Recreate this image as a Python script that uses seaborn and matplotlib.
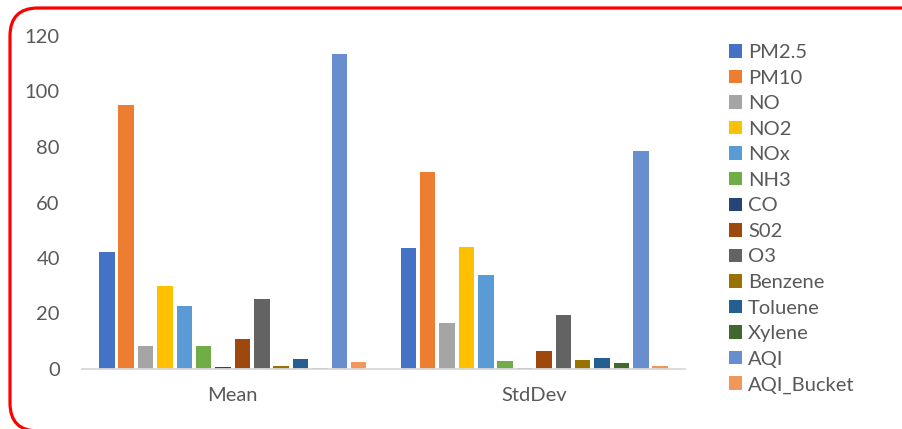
import matplotlib
matplotlib.use("Agg")
import matplotlib.pyplot as plt
from matplotlib.patches import FancyBboxPatch
from matplotlib.transforms import IdentityTransform
import seaborn as sns
import pandas as pd

stats = ["Mean", "StdDev"]
pollutants = ["PM2.5", "PM10", "NO", "NO2", "NOx", "NH3", "CO", "S02", "O3",
              "Benzene", "Toluene", "Xylene", "AQI", "AQI_Bucket"]
mean_vals = [42.2, 95.0, 8.3, 29.9, 22.7, 8.4, 0.8, 10.9, 25.2, 1.0, 3.6, 0.5, 113.4, 2.6]
std_vals = [43.7, 71.0, 16.4, 44.0, 34.0, 2.9, 0.5, 6.6, 19.5, 3.2, 4.0, 2.0, 78.6, 1.2]
colors = ["#4472C4", "#ED7D31", "#A5A5A5", "#FFC000", "#5B9BD5", "#70AD47", "#264478",
          "#9E480E", "#636363", "#997300", "#255E91", "#43682B", "#698ED0", "#F1975A"]

df = pd.DataFrame({
    "stat": ["Mean"] * len(pollutants) + ["StdDev"] * len(pollutants),
    "pollutant": pollutants * 2,
    "value": mean_vals + std_vals,
})

sns.set_style("white")
plt.rcParams["font.family"] = ["Lato", "DejaVu Sans"]
text_color = "#595959"

fig = plt.figure(figsize=(9.02, 4.29), dpi=100)
ax = fig.add_axes([82 / 902, 60 / 429, 603 / 902, 333 / 429])

sns.barplot(data=df, x="stat", y="value", hue="pollutant", order=stats,
            hue_order=pollutants, palette=colors, width=0.9, gap=0.2,
            linewidth=0, saturation=1, ax=ax)

ax.set_xlim(-0.5, 1.5)
ax.set_ylim(0, 120)
ax.set_yticks(range(0, 121, 20))
ax.set_xlabel("")
ax.set_ylabel("")
for s in ["top", "right", "left"]:
    ax.spines[s].set_visible(False)
ax.spines["bottom"].set_color("#D9D9D9")
ax.spines["bottom"].set_linewidth(1.3)
ax.tick_params(axis="y", length=0, pad=16, labelsize=14.5, labelcolor=text_color)
ax.tick_params(axis="x", length=0, pad=13, labelsize=14.5, labelcolor=text_color)

handles, labels = ax.get_legend_handles_labels()
ax.get_legend().remove()
fig.legend(handles, labels, loc="upper left", bbox_to_anchor=(729 / 902, 1 - 44 / 429),
           frameon=False, fontsize=14.5, labelcolor=text_color, handlelength=0.65,
           handleheight=0.65, handletextpad=0.3, labelspacing=0.425,
           borderpad=0, borderaxespad=0)

border = FancyBboxPatch((10, -2), 920, 423, boxstyle="round,pad=0,rounding_size=28",
                        transform=IdentityTransform(), fill=False,
                        edgecolor="#FF0000", linewidth=2.3)
fig.add_artist(border)

fig.savefig("out.png", dpi=100)
